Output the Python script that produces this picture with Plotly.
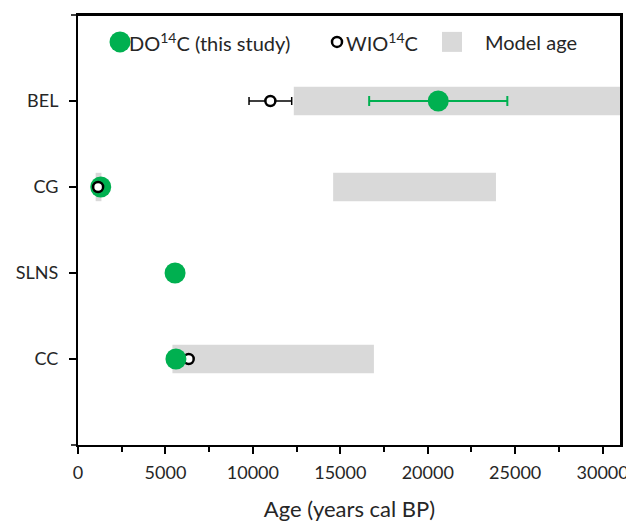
import plotly.graph_objects as go

# ---- data ----
sites = ["CC", "SLNS", "CG", "BEL"]
site_pos = [1, 2, 3, 4]

do14c_site = ["BEL", "CG", "SLNS", "CC"]
do14c_age = [20600, 1300, 5550, 5600]
do14c_err = [3950, 0, 0, 0]

wio14c_site = ["BEL", "CG", "CC"]
wio14c_age = [11000, 1150, 6330]
wio14c_err = [1220, 0, 0]

model_site = ["BEL", "CG", "CG", "CC"]
model_start = [12340, 1010, 14590, 5400]
model_end = [31500, 1340, 23900, 16920]

x_ticks = [0, 5000, 10000, 15000, 20000, 25000, 30000]

pos = dict(zip(sites, site_pos))
FONT = "Lato, 'Open Sans', sans-serif"
GREEN = "#00b050"
GREY = "#d9d9d9"
TXT = "#262626"

OFF = 8
W, H = 634 - OFF, 527 - OFF
ML, MR, MT, MB = 78 - OFF, 13, 13 - OFF, 82


def px(xpix):
    return (xpix - 78) / 543


def py(ypix):
    return 1 - (ypix - 13) / 432


fig = go.Figure()

fig.add_trace(go.Bar(
    orientation="h",
    y=[pos[s] for s in model_site],
    base=model_start,
    x=[e - s for s, e in zip(model_start, model_end)],
    width=0.33,
    marker=dict(color=GREY, line=dict(width=0)),
    name="Model age", showlegend=False, hoverinfo="skip",
))

fig.add_trace(go.Scatter(
    x=wio14c_age, y=[pos[s] for s in wio14c_site], mode="markers",
    marker=dict(size=10, color="white", line=dict(color="black", width=2.5)),
    error_x=dict(type="data", array=wio14c_err, color="black", thickness=1.5, width=4),
    name="WIO14C", showlegend=False,
))

fig.add_trace(go.Scatter(
    x=do14c_age, y=[pos[s] for s in do14c_site], mode="markers",
    marker=dict(size=21, color=GREEN, line=dict(width=0)),
    error_x=dict(type="data", array=do14c_err, color=GREEN, thickness=2, width=5),
    name="DO14C", showlegend=False,
))

fig.add_trace(go.Scatter(
    x=[wio14c_age[1]], y=[pos["CG"]], mode="markers",
    marker=dict(size=10, color="white", line=dict(color="black", width=2.5)),
    showlegend=False, hoverinfo="skip",
))

LY = py(40)
shapes = [
    # frame (top/right edges and left-edge end ticks)
    dict(type="line", xref="paper", yref="paper", x0=0, x1=1, y0=1, y1=1,
         line=dict(color="black", width=2)),
    dict(type="line", xref="paper", yref="paper", x0=1, x1=1, y0=0, y1=1,
         line=dict(color="black", width=2)),
    dict(type="line", xref="paper", yref="paper", xsizemode="pixel", xanchor=0,
         x0=-7, x1=0, y0=1, y1=1, line=dict(color="black", width=1.5)),
    dict(type="line", xref="paper", yref="paper", xsizemode="pixel", xanchor=0,
         x0=-7, x1=0, y0=0, y1=0, line=dict(color="black", width=1.5)),
    # legend symbols
    dict(type="circle", xref="paper", yref="paper", xsizemode="pixel", ysizemode="pixel",
         xanchor=px(120), yanchor=LY, x0=-10.5, x1=10.5, y0=-10.5, y1=10.5,
         fillcolor=GREEN, line=dict(width=0)),
    dict(type="circle", xref="paper", yref="paper", xsizemode="pixel", ysizemode="pixel",
         xanchor=px(337), yanchor=LY, x0=-5, x1=5, y0=-5, y1=5,
         fillcolor="white", line=dict(width=2.5, color="black")),
    dict(type="rect", xref="paper", yref="paper", xsizemode="pixel", ysizemode="pixel",
         xanchor=px(452), yanchor=LY, x0=-10, x1=10, y0=-10, y1=10,
         fillcolor=GREY, line=dict(width=0)),
]
LF = dict(size=20, family=FONT, color=TXT)
annotations = [
    dict(text="DO<sup>14</sup>C (this study)", x=px(127), y=LY, xref="paper", yref="paper",
         xanchor="left", yanchor="middle", showarrow=False, font=LF),
    dict(text="WIO<sup>14</sup>C", x=px(344), y=LY, xref="paper", yref="paper",
         xanchor="left", yanchor="middle", showarrow=False, font=LF),
    dict(text="Model age", x=px(483), y=LY, xref="paper", yref="paper",
         xanchor="left", yanchor="middle", showarrow=False, font=LF),
]

fig.update_layout(
    width=W, height=H,
    margin=dict(l=ML, r=MR, t=MT, b=MB),
    paper_bgcolor="white", plot_bgcolor="white",
    font=dict(family=FONT, color=TXT, size=18),
    showlegend=False, barmode="overlay",
    shapes=shapes, annotations=annotations,
    xaxis=dict(
        range=[0, 31050], tickvals=x_ticks, ticktext=[str(v) for v in x_ticks],
        ticks="outside", ticklen=7, tickwidth=1.5, tickcolor="black",
        minor=dict(dtick=2500, tick0=0, ticks="outside", ticklen=5, tickwidth=1.5, tickcolor="black"),
        showline=True, linecolor="black", linewidth=2, mirror=True,
        showgrid=False, zeroline=False, ticklabelstandoff=3,
        title=dict(text="Age (years cal BP)", font=dict(size=22, family=FONT, color=TXT), standoff=20),
        tickfont=dict(size=18, family=FONT, color=TXT),
    ),
    yaxis=dict(
        range=[0, 5], tickvals=site_pos, ticktext=sites,
        ticks="outside", ticklen=7, tickwidth=1.5, tickcolor="black",
        showline=True, linecolor="black", linewidth=2, mirror=True,
        showgrid=False, zeroline=False, ticklabelstandoff=7,
        tickfont=dict(size=18, family=FONT, color=TXT),
    ),
)

fig.write_html("out.html")
